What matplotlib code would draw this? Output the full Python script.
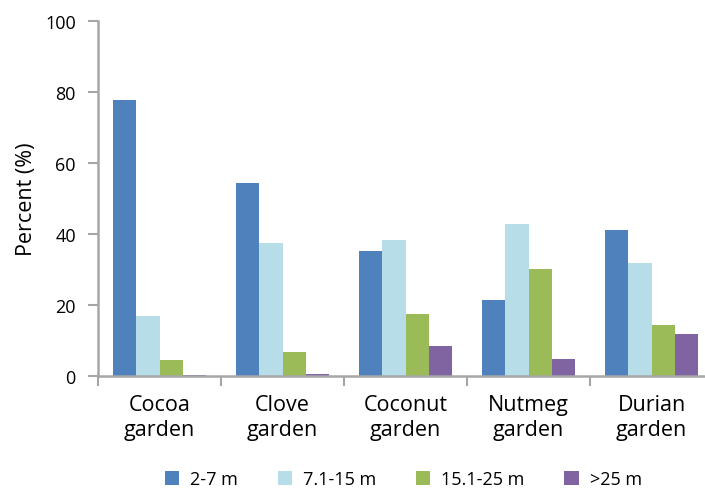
import matplotlib.pyplot as plt
import numpy as np

plt.rcParams['font.family'] = ['Open Sans', 'DejaVu Sans']

categories = ['Cocoa\ngarden', 'Clove\ngarden', 'Coconut\ngarden', 'Nutmeg\ngarden', 'Durian\ngarden']
series = ['2-7 m', '7.1-15 m', '15.1-25 m', '>25 m']
h_2_7 = [77.7, 54.5, 35.2, 21.4, 41.2]
h_7_15 = [17.0, 37.6, 38.3, 42.9, 31.8]
h_15_25 = [4.5, 6.8, 17.4, 30.1, 14.3]
h_25 = [0.4, 0.7, 8.4, 4.7, 11.8]
colors = ['#4F81BD', '#B7DEE8', '#9BBB59', '#8064A2']

fig = plt.figure(figsize=(7.05, 4.89), dpi=100)
ax = fig.add_axes([98 / 705, 1 - 377 / 489, 615 / 705, 355 / 489])

x = np.arange(len(categories))
w = 0.1875
for i, (vals, lab) in enumerate(zip([h_2_7, h_7_15, h_15_25, h_25], series)):
    ax.bar(x + (i - 1.5) * w, vals, w, color=colors[i], label=lab, linewidth=0)

ax.set_xlim(-0.5, len(categories) - 0.5)
ax.set_ylim(0, 100)
ax.set_yticks(range(0, 101, 20))
ax.set_xticks(x)
ax.set_xticklabels(categories, fontsize=15.5, linespacing=1.25)
ax.set_xticks(np.arange(-0.5, len(categories)), minor=True)
ax.tick_params(axis='x', which='major', length=0, pad=13)
ax.tick_params(axis='x', which='minor', length=7, width=1.5, color='#A6A6A6')
ax.tick_params(axis='y', length=7, width=1.5, color='#A6A6A6', labelsize=13, pad=9)
ax.set_ylabel('Percent (%)', fontsize=15.5, labelpad=6)

for s in ['top', 'right']:
    ax.spines[s].set_visible(False)
for s in ['left', 'bottom']:
    ax.spines[s].set_color('#A6A6A6')
    ax.spines[s].set_linewidth(1.8)

fig.legend(loc='center', bbox_to_anchor=(0.572, 1 - 480 / 489), ncol=4, frameon=False,
           fontsize=13, handlelength=0.8, handleheight=0.8, columnspacing=2.2, handletextpad=0.6)

fig.savefig('out.png', dpi=100)
